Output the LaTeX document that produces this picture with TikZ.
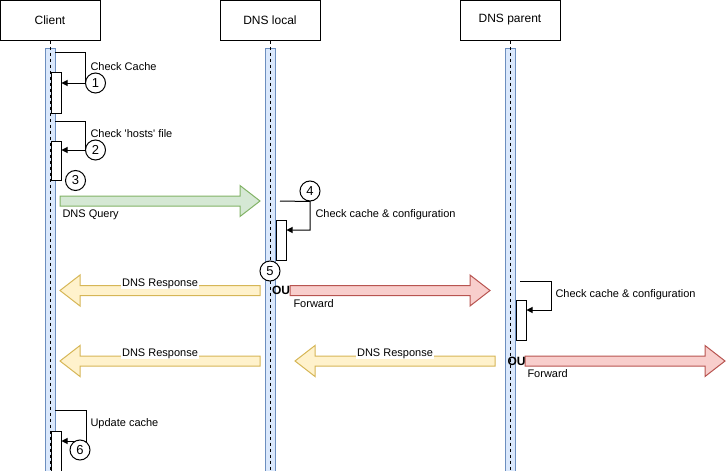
\documentclass[tikz,border=0pt]{standalone}
\usepackage{fontspec}
\setmainfont{Liberation Sans}
\usetikzlibrary{arrows.meta,calc,positioning}

\definecolor{barfill}{HTML}{DAE8FC}
\definecolor{bardraw}{HTML}{6C8EBF}
\definecolor{qfill}{HTML}{D5E8D4}
\definecolor{qdraw}{HTML}{82B366}
\definecolor{rfill}{HTML}{FFF2CC}
\definecolor{rdraw}{HTML}{D6B656}
\definecolor{ffill}{HTML}{F8CECC}
\definecolor{fdraw}{HTML}{B85450}

% big block arrow: style, tail, tip
\newcommand{\blockarrow}[3]{%
  \coordinate (hb) at ($(#3)!20pt!(#2)$);
  \draw[#1] ($(#2)+(0,5)$) -- ($(hb)+(0,5)$) -- ($(hb)+(0,15.5)$) -- (#3)
    -- ($(hb)+(0,-15.5)$) -- ($(hb)+(0,-5)$) -- ($(#2)+(0,-5)$) -- cycle;
}

\begin{document}
\begin{tikzpicture}[%
x=1pt, y=-1pt,
>={Triangle[length=6pt,width=6pt]},
line width=1pt,
head/.style={draw, minimum width=100pt, minimum height=40pt, inner sep=0pt,
  font=\fontsize{12}{14}\selectfont},
bar/.style={draw=bardraw, fill=barfill},
life/.style={dash pattern=on 3pt off 3pt},
act/.style={draw, fill=white, minimum width=10pt, inner sep=0pt, anchor=north west},
num/.style={circle, draw, fill=white, minimum size=20pt, inner sep=0pt,
  font=\fontsize{13}{15}\selectfont},
lbl/.style={font=\fontsize{11}{13}\selectfont, inner sep=0pt, anchor=base west},
orlbl/.style={font=\fontsize{12}{14}\selectfont\bfseries, inner sep=0pt, anchor=base west},
resp/.style={font=\fontsize{11}{13}\selectfont, inner sep=1pt, fill=white, anchor=base},
query/.style={draw=qdraw, fill=qfill},
answer/.style={draw=rdraw, fill=rfill},
fwd/.style={draw=fdraw, fill=ffill}
]
\useasboundingbox (0,0) rectangle (726,471);

% lifelines
\node[head] (client) at (50,20) {Client};
\node[head] (local) at (270,20) {DNS local};
\node[head] (parent) at (510,20) {DNS parent};
\coordinate (bot) at (0,476);

\draw[bar] (45,48) rectangle (55,476);
\draw[bar] (265,48) rectangle (275,476);
\draw[bar] (505,48) rectangle (515,476);

\draw[life] (client.south) -- (client.south |- bot);
\draw[life] (local.south) -- (local.south |- bot);
\draw[life] (parent.south) -- (parent.south |- bot);

% activations
\node[act, minimum height=41pt] (act1) at (50.5,72) {};
\node[act, minimum height=39pt] (act2) at (50.5,141) {};
\node[act, minimum height=40pt] (act4) at (275.5,220) {};
\node[act, minimum height=40pt] (act5) at (515.5,300) {};
\node[act, minimum height=40pt] (act6) at (50.5,431) {};

% numbered steps
\node[num] (c1) at (95.5,83) {1};
\node[num] (c2) at (95.5,150) {2};
\node[num] (c3) at (75.5,180.5) {3};
\node[num] (c4) at (310,191) {4};
\node[num] (c5) at (270,271) {5};

% self messages
\coordinate (s1) at (55,52);
\coordinate (s2) at (55,121);
\coordinate (s4) at (280,201);
\coordinate (t4) at (310,230);
\coordinate (s5) at (520,281);
\coordinate (t5) at (551,310);
\coordinate (s6) at (55,410);
\coordinate (t6) at (86,441);

\draw[->] (s1) -| (c1.west) -- (c1.west -| act1.east);
\draw[->] (s2) -| (c2.west) -- (c2.west -| act2.east);
\draw[->] (s4) -- (c4.south) -- (t4) -- (t4 -| act4.east);
\draw[->] (s5) -| (t5) -- (t5 -| act5.east);
\draw[->] (s6) -| (t6) -- (t6 -| act6.east);
\node[num] (c6) at (80,450) {6};

% messages
\coordinate (q1) at (60,201);
\coordinate (q2) at (260,201);
\coordinate (a1) at (260,290.5);
\coordinate (a2) at (60,290.5);
\coordinate (f1) at (290,290.5);
\coordinate (f2) at (490,290.5);
\coordinate (b1) at (260,361);
\coordinate (b2) at (60,361);
\coordinate (p1) at (495,361);
\coordinate (p2) at (295,361);
\coordinate (g1) at (525,361);
\coordinate (g2) at (725,361);

\blockarrow{query}{q1}{q2}
\blockarrow{answer}{a1}{a2}
\blockarrow{fwd}{f1}{f2}
\blockarrow{answer}{b1}{b2}
\blockarrow{answer}{p1}{p2}
\blockarrow{fwd}{g1}{g2}

% labels
\node[lbl] (l1) at (90,70) {Check Cache};
\node[lbl] (l2) at (90,137.5) {Check \textquotesingle hosts\textquotesingle\ file};
\node[lbl] (l3) at (62,217.3) {DNS Query};
\node[lbl] (l4) at (315,217.7) {Check cache \& configuration};
\node[lbl] (l5) at (555,297.3) {Check cache \& configuration};
\node[orlbl] (or1) at (271.5,294.7) {OU};
\node[orlbl] (or2) at (507,365) {OU};
\node[lbl] (l6) at (293,307.3) {Forward};
\node[lbl] (l7) at (527,377.3) {Forward};
\node[resp] (r1) at (160,286) {DNS Response};
\node[resp] (r2) at (160,356) {DNS Response};
\node[resp] (r3) at (395,356) {DNS Response};
\node[lbl] (l8) at (90,426.7) {Update cache};

\end{tikzpicture}
\end{document}
